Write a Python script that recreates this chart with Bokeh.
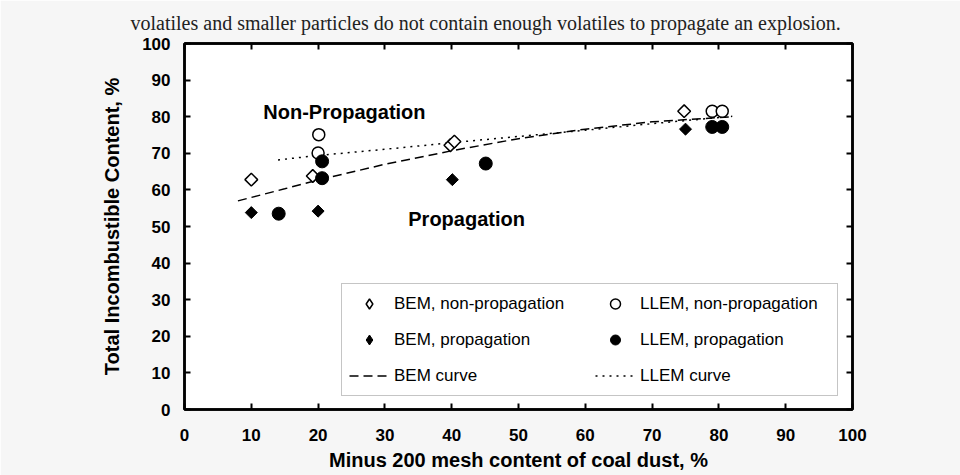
import math
from bokeh.plotting import figure
from bokeh.models import (Range1d, LinearAxis, SingleIntervalTicker, Legend,
                          LegendItem, Label)
from bokeh.embed import file_html
from bokeh.resources import INLINE

# ---- data ----
bem_np_x = [10.0, 19.2, 39.8, 40.4, 74.8]
bem_np_y = [62.8, 63.8, 72.2, 73.2, 81.5]
bem_p_x = [10.0, 20.0, 40.1, 75.0]
bem_p_y = [53.8, 54.2, 62.8, 76.6]
llem_np_x = [20.1, 20.0, 79.0, 80.5]
llem_np_y = [75.1, 70.1, 81.5, 81.5]
llem_p_x = [14.1, 20.6, 20.6, 45.1, 79.0, 80.5]
llem_p_y = [53.5, 67.8, 63.2, 67.2, 77.2, 77.2]
bem_curve_x = [8, 15, 20, 30, 40, 50, 60, 70, 82]
bem_curve_y = [57.0, 60.3, 62.7, 67.0, 70.7, 74.0, 76.6, 78.6, 80.0]
llem_curve_x = [14, 20, 30, 40, 50, 60, 70, 82]
llem_curve_y = [68.2, 69.4, 71.1, 72.9, 74.6, 76.3, 78.1, 80.1]

FONT = "Liberation Sans"
CAPTION = "volatiles and smaller particles do not contain enough volatiles to propagate an explosion."

p = figure(width=960, height=475, x_range=Range1d(0, 100), y_range=Range1d(0, 100),
           output_backend="svg", toolbar_location=None,
           min_border_left=184, min_border_right=108, min_border_top=43,
           min_border_bottom=66,
           background_fill_color="white", border_fill_color="#f6f6f6",
           outline_line_color="black", outline_line_width=2.5,
           title=CAPTION)
p.title.text_font = "Liberation Serif"
p.title.text_font_style = "normal"
p.title.text_font_size = "20px"
p.title.text_color = "#222222"
p.title.align = "left"
p.title.offset = -54
p.title.standoff = 19
p.xgrid.visible = False
p.ygrid.visible = False

def style_axis(ax, show_labels=True):
    ax.ticker = SingleIntervalTicker(interval=10, num_minor_ticks=0)
    ax.axis_line_color = "black"
    ax.axis_line_width = 2.5
    ax.major_tick_in = 6
    ax.major_tick_out = 0
    ax.major_tick_line_width = 2
    ax.minor_tick_line_color = None
    ax.major_label_text_font = FONT
    ax.major_label_text_font_style = "bold"
    ax.major_label_text_color = "black"
    ax.major_label_text_font_size = "17px"
    ax.axis_label_text_font = FONT
    ax.axis_label_text_font_style = "bold"
    ax.axis_label_text_color = "black"
    ax.axis_label_text_font_size = "20px"
    if not show_labels:
        ax.major_label_text_font_size = "0px"
        ax.major_label_text_alpha = 0
        ax.major_label_standoff = 0

style_axis(p.xaxis[0])
style_axis(p.yaxis[0])
p.xaxis.axis_label = "Minus 200 mesh content of coal dust, %"
p.yaxis.axis_label = "Total Incombustible Content, %"
p.xaxis.major_label_standoff = 19
p.xaxis.axis_label_standoff = 5
p.yaxis.major_label_standoff = 14
p.yaxis.axis_label_standoff = 16

ax_r = LinearAxis()
style_axis(ax_r, show_labels=False)
p.add_layout(ax_r, "right")
ax_t = LinearAxis()
style_axis(ax_t, show_labels=False)
p.add_layout(ax_t, "above")

# curves
r_bem_curve = p.line(bem_curve_x, bem_curve_y, line_color="black", line_width=1.5,
                     line_dash="9 5")
r_llem_curve = p.line(llem_curve_x, llem_curve_y, line_color="black", line_width=1.5,
                      line_dash="2 5")

# legend-shape diamonds (hidden beneath the plotted diamonds, used for the legend)
r_bem_np_leg = p.scatter(bem_np_x, bem_np_y, marker="diamond", size=10,
                         fill_color="white", line_color="black", line_width=1.5)
r_bem_p_leg = p.scatter(bem_p_x, bem_p_y, marker="diamond", size=10,
                        fill_color="black", line_color="black", line_width=1)

# points
p.scatter(bem_np_x, bem_np_y, marker="square", angle=math.pi / 4, size=9,
          fill_color="white", line_color="black", line_width=1.5)
p.scatter(bem_p_x, bem_p_y, marker="square", angle=math.pi / 4, size=8.5,
          fill_color="black", line_color="black", line_width=1)
r_llem_np = p.scatter(llem_np_x, llem_np_y, marker="circle", size=12,
                      fill_color="white", line_color="black", line_width=1.5)
r_llem_p = p.scatter(llem_p_x, llem_p_y, marker="circle", size=13,
                     fill_color="black", line_color="black", line_width=1)

legend = Legend(items=[
    LegendItem(label="BEM, non-propagation", renderers=[r_bem_np_leg]),
    LegendItem(label="BEM, propagation", renderers=[r_bem_p_leg]),
    LegendItem(label="BEM curve", renderers=[r_bem_curve]),
    LegendItem(label="LLEM, non-propagation", renderers=[r_llem_np]),
    LegendItem(label="LLEM, propagation", renderers=[r_llem_p]),
    LegendItem(label="LLEM curve", renderers=[r_llem_curve]),
], orientation="vertical", ncols=2, location=(157, 13),
    label_text_font=FONT, label_text_font_size="17px", label_text_color="black",
    glyph_width=40, glyph_height=25, label_height=25, label_width=190,
    label_standoff=5, spacing=11, padding=7, margin=0,
    border_line_color="#8c8c8c", border_line_width=1,
    background_fill_color="white", background_fill_alpha=1)
p.add_layout(legend, "center")

p.add_layout(Label(x=11.8, y=81.4, text="Non-Propagation", text_baseline="middle",
                   text_font=FONT, text_font_style="bold", text_font_size="20px",
                   text_color="black"))
p.add_layout(Label(x=33.5, y=52.1, text="Propagation", text_baseline="middle",
                   text_font=FONT, text_font_style="bold", text_font_size="20px",
                   text_color="black"))

open("out.html", "w").write(file_html(p, INLINE))
